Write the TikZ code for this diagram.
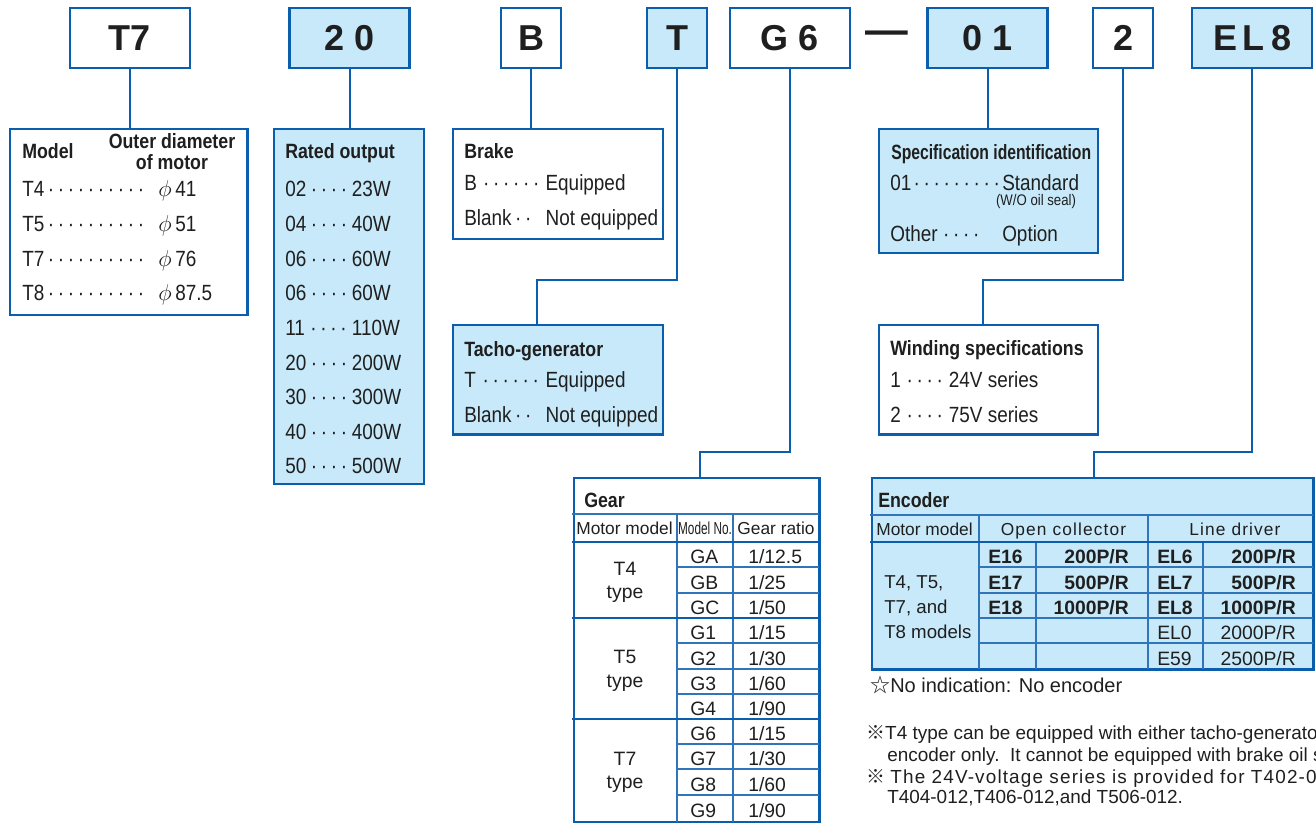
\documentclass[tikz,border=0pt]{standalone}
\usepackage{fontspec}
\setmainfont{Liberation Sans}
\newfontfamily\ordnarrow[FakeStretch=0.86]{Liberation Sans}
\newfontfamily\ordtight[FakeStretch=0.76]{Liberation Sans}
\newfontfamily\ordsqueeze[FakeStretch=0.68]{Liberation Sans}
\newfontfamily\ordsym{Noto Sans CJK SC}
\usepackage{tikz}
\definecolor{ordblue}{HTML}{0B5DAE}
\definecolor{ordfill}{HTML}{C7E9F9}
\colorlet{ordink}{black!88}
\newcommand\orddots[2]{\makebox[#1][l]{#2\cleaders\hbox to 7.5pt{\hss·\hss}\hfill}}
\tikzset{
  ordkey/.style={
    draw=ordblue,
    line width=2.2pt,
    fill=white,
    inner sep=0pt,
    minimum width=90pt,
    minimum height=45pt,
    text=ordink,
    font=\fontsize{27}{30}\selectfont\bfseries
  },
  ordshade/.style={fill=ordfill},
  orddash/.style={inner sep=0pt,text=ordink,font=\fontsize{32}{34}\selectfont\bfseries},
  ordpanel/.style={draw=ordblue,line width=1.8pt,fill=white,anchor=north west,inner sep=0pt},
  ordlink/.style={draw=ordblue,line width=1.5pt},
  ordtitle/.style={anchor=base west,inner sep=0pt,text=ordink,
                   font=\ordnarrow\fontsize{15.5}{16}\selectfont\bfseries},
  ordrow/.style={anchor=base west,inner sep=0pt,text=ordink,
                 font=\ordnarrow\fontsize{16.5}{19}\selectfont},
  ordtiny/.style={anchor=base,inner sep=0pt,text=ordink,
                  font=\ordnarrow\fontsize{11.5}{13}\selectfont},
  ordhead/.style={anchor=base,inner sep=0pt,text=ordink,font=\fontsize{13}{15}\selectfont},
  ordcell/.style={anchor=base west,inner sep=0pt,text=ordink,font=\fontsize{14.5}{17}\selectfont},
  ordvalue/.style={ordcell,anchor=base east},
  ordmid/.style={ordcell,anchor=base},
  ordgrid/.style={draw=ordblue!85,line width=0.9pt},
  ordsep/.style={draw=ordblue,line width=1.8pt},
  ordnote/.style={anchor=base west,inner sep=0pt,text=ordink,font=\fontsize{14.2}{17}\selectfont}
}

\begin{document}
\begin{tikzpicture}[x=0.75pt,y=-0.75pt]
  \useasboundingbox (0,0) rectangle (1316,823);

  % code keys along the top
  \node[ordkey] (kmodel) at (130,38) {T7};
  \node[ordkey,ordshade] (kout) at (349.5,38) {2 0};
  \node[ordkey,minimum width=45pt] (kbrake) at (531,38) {B};
  \node[ordkey,ordshade,minimum width=45pt] (ktacho) at (677,38) {T};
  \node[ordkey] (kgear) at (790,38) {G 6};
  \node[orddash] (dash) at (886.5,38) {—};
  \node[ordkey,ordshade] (kspec) at (987.5,38) {0 1};
  \node[ordkey,minimum width=45pt] (kwind) at (1123,38) {2};
  \node[ordkey,ordshade] (kenc) at (1252,38) {E\,L\,8};

  % panels
  \node[ordpanel,minimum width=178pt,minimum height=139.5pt] (model) at (9,128) {};
  \node[ordpanel,ordshade,minimum width=112.5pt,minimum height=266pt] (rated) at (273,128) {};
  \node[ordpanel,minimum width=157.5pt,minimum height=82.5pt] (brake) at (452,128) {};
  \node[ordpanel,ordshade,minimum width=157.5pt,minimum height=82pt] (tacho) at (452,324) {};
  \node[ordpanel,ordshade,minimum width=164pt,minimum height=93pt] (spec) at (878,128) {};
  \node[ordpanel,minimum width=164pt,minimum height=82pt] (wind) at (878,324) {};
  \node[ordpanel,minimum width=184pt,minimum height=258pt] (gear) at (573,477) {};
  \node[ordpanel,ordshade,minimum width=331pt,minimum height=143.5pt] (enc) at (871,477) {};

  % connectors
  \coordinate (tachobend) at (537,280);
  \coordinate (gearbend) at (700,452);
  \coordinate (windbend) at (983,280);
  \coordinate (encbend) at (1094,452);
  \draw[ordlink] (kmodel.south) -- (kmodel.south |- model.north);
  \draw[ordlink] (kout.south) -- (kout.south |- rated.north);
  \draw[ordlink] (kbrake.south) -- (kbrake.south |- brake.north);
  \draw[ordlink] (ktacho.south) |- (tachobend) -- (tachobend |- tacho.north);
  \draw[ordlink] (kgear.south) |- (gearbend) -- (gearbend |- gear.north);
  \draw[ordlink] (kspec.south) -- (kspec.south |- spec.north);
  \draw[ordlink] (kwind.south) |- (windbend) -- (windbend |- wind.north);
  \draw[ordlink] (kenc.south) |- (encbend) -- (encbend |- enc.north);

  % model
  \node[ordtitle] (modeltl) at (22,159) {Model};
  \node[ordtitle,anchor=base] (modeltr) at (172,149) {Outer diameter};
  \node[ordtitle,anchor=base] (modeltr2) at (172,170) {of motor};
  \node[ordrow] (model1) at (22,197) {\orddots{94pt}{T4}\hspace{8pt}$\phi$\,41};
  \node[ordrow] (model2) at (22,231.6) {\orddots{94pt}{T5}\hspace{8pt}$\phi$\,51};
  \node[ordrow] (model3) at (22,266.2) {\orddots{94pt}{T7}\hspace{8pt}$\phi$\,76};
  \node[ordrow] (model4) at (22,300.8) {\orddots{94pt}{T8}\hspace{8pt}$\phi$\,87.5};

  % rated output
  \node[ordtitle] (ratedtl) at (285,159) {Rated output};
  \node[ordrow] (rated1) at (285,197) {\orddots{50pt}{02}23W};
  \node[ordrow] (rated2) at (285,231.6) {\orddots{50pt}{04}40W};
  \node[ordrow] (rated3) at (285,266.2) {\orddots{50pt}{06}60W};
  \node[ordrow] (rated4) at (285,300.8) {\orddots{50pt}{06}60W};
  \node[ordrow] (rated5) at (285,335.4) {\orddots{50pt}{11}110W};
  \node[ordrow] (rated6) at (285,370) {\orddots{50pt}{20}200W};
  \node[ordrow] (rated7) at (285,404.6) {\orddots{50pt}{30}300W};
  \node[ordrow] (rated8) at (285,439.2) {\orddots{50pt}{40}400W};
  \node[ordrow] (rated9) at (285,473.8) {\orddots{50pt}{50}500W};

  % brake, tacho-generator
  \node[ordtitle] (braketl) at (464,159) {Brake};
  \node[ordrow] (brake1) at (464,191) {\orddots{61pt}{B}Equipped};
  \node[ordrow] (brake2) at (464,226) {\orddots{53pt}{Blank}\hspace{8pt}Not equipped};
  \node[ordtitle] (tachotl) at (464,356) {Tacho-generator};
  \node[ordrow] (tacho1) at (464,387) {\orddots{61pt}{T}Equipped};
  \node[ordrow] (tacho2) at (464,422) {\orddots{53pt}{Blank}\hspace{8pt}Not equipped};

  % specification, winding
  \node[ordtitle,font=\ordtight\fontsize{15.5}{16}\selectfont\bfseries] (spectl) at (891,160) {Specification identification};
  \node[ordrow] (spec1) at (890,191) {\orddots{84pt}{01}Standard};
  \node[ordtiny] (specnote) at (1036,206) {(W/O oil seal)};
  \node[ordrow] (spec2) at (890,242) {\orddots{71pt}{Other}\hspace{13pt}Option};
  \node[ordtitle] (windtl) at (890,355) {Winding specifications};
  \node[ordrow] (wind1) at (890,387) {\orddots{44pt}{1}24V series};
  \node[ordrow] (wind2) at (890,422) {\orddots{44pt}{2}75V series};

  % gear table
  \draw[ordgrid] (572,514) -- (819,514);
  \draw[ordgrid] (677,514) -- (677,822);
  \draw[ordgrid] (733,514) -- (733,822);
  \draw[ordgrid] (677,567) -- (819,567);
  \draw[ordgrid] (677,593) -- (819,593);
  \draw[ordgrid] (677,643) -- (819,643);
  \draw[ordgrid] (677,669) -- (819,669);
  \draw[ordgrid] (677,694) -- (819,694);
  \draw[ordgrid] (677,744) -- (819,744);
  \draw[ordgrid] (677,769) -- (819,769);
  \draw[ordgrid] (677,795) -- (819,795);
  \draw[ordsep] (572,542) -- (819,542);
  \draw[ordsep] (572,618) -- (819,618);
  \draw[ordsep] (572,719) -- (819,719);
  \node[ordtitle] (geartl) at (584,507) {Gear};
  \node[ordhead] (gearh1) at (624.5,534) {Motor model};
  \node[ordhead,font=\ordsqueeze\fontsize{13}{15}\selectfont] (gearh2) at (705,534) {Model No.};
  \node[ordhead] (gearh3) at (776,534) {Gear ratio};
  \node[ordmid] (gearm1) at (625,575) {T4};
  \node[ordmid] (gearm1b) at (625,598) {type};
  \node[ordmid] (gearm2) at (625,663) {T5};
  \node[ordmid] (gearm2b) at (625,687) {type};
  \node[ordmid] (gearm3) at (625,765) {T7};
  \node[ordmid] (gearm3b) at (625,788) {type};
  \node[ordcell] (gearc1) at (690,563) {GA};
  \node[ordcell] (gearr1) at (748,563) {1/12.5};
  \node[ordcell] (gearc2) at (690,589) {GB};
  \node[ordcell] (gearr2) at (748,589) {1/25};
  \node[ordcell] (gearc3) at (690,614) {GC};
  \node[ordcell] (gearr3) at (748,614) {1/50};
  \node[ordcell] (gearc4) at (690,639) {G1};
  \node[ordcell] (gearr4) at (748,639) {1/15};
  \node[ordcell] (gearc5) at (690,665) {G2};
  \node[ordcell] (gearr5) at (748,665) {1/30};
  \node[ordcell] (gearc6) at (690,690) {G3};
  \node[ordcell] (gearr6) at (748,690) {1/60};
  \node[ordcell] (gearc7) at (690,715) {G4};
  \node[ordcell] (gearr7) at (748,715) {1/90};
  \node[ordcell] (gearc8) at (690,740) {G6};
  \node[ordcell] (gearr8) at (748,740) {1/15};
  \node[ordcell] (gearc9) at (690,765) {G7};
  \node[ordcell] (gearr9) at (748,765) {1/30};
  \node[ordcell] (gearc10) at (690,791) {G8};
  \node[ordcell] (gearr10) at (748,791) {1/60};
  \node[ordcell] (gearc11) at (690,817) {G9};
  \node[ordcell] (gearr11) at (748,817) {1/90};

  % encoder table
  \draw[ordgrid] (870,515) -- (1313,515);
  \draw[ordgrid] (979,515) -- (979,669);
  \draw[ordgrid] (1148,515) -- (1148,669);
  \draw[ordgrid] (1036,542) -- (1036,669);
  \draw[ordgrid] (1203,542) -- (1203,669);
  \draw[ordgrid] (979,567) -- (1313,567);
  \draw[ordgrid] (979,593) -- (1313,593);
  \draw[ordgrid] (979,618) -- (1313,618);
  \draw[ordgrid] (979,643) -- (1313,643);
  \draw[ordsep] (870,542) -- (1313,542);
  \node[ordtitle] (enctl) at (878,507) {Encoder};
  \node[ordhead] (ench1) at (924.5,535) {Motor model};
  \node[ordhead,font=\addfontfeature{LetterSpace=6.5}\fontsize{13}{15}\selectfont] (ench2) at (1063.5,535) {Open collector};
  \node[ordhead,font=\addfontfeature{LetterSpace=6.5}\fontsize{13}{15}\selectfont] (ench3) at (1235,535) {Line driver};
  \node[ordcell,font=\fontsize{14}{17}\selectfont] (encm1) at (884,588) {T4, T5,};
  \node[ordcell,font=\fontsize{14}{17}\selectfont] (encm2) at (884,613) {T7, and};
  \node[ordcell,font=\fontsize{14}{17}\selectfont] (encm3) at (884,638) {T8 models};
  \node[ordcell,font=\fontsize{14.5}{17}\selectfont\bfseries] (encc1) at (988,563) {E16};
  \node[ordvalue,font=\fontsize{14.5}{17}\selectfont\bfseries] (encv1) at (1129,563) {200P/R};
  \node[ordcell,font=\fontsize{14.5}{17}\selectfont\bfseries] (encc2) at (988,589) {E17};
  \node[ordvalue,font=\fontsize{14.5}{17}\selectfont\bfseries] (encv2) at (1129,589) {500P/R};
  \node[ordcell,font=\fontsize{14.5}{17}\selectfont\bfseries] (encc3) at (988,614) {E18};
  \node[ordvalue,font=\fontsize{14.5}{17}\selectfont\bfseries] (encv3) at (1129,614) {1000P/R};
  \node[ordcell,font=\fontsize{14.5}{17}\selectfont\bfseries] (encl1) at (1157,563) {EL6};
  \node[ordvalue,font=\fontsize{14.5}{17}\selectfont\bfseries] (encw1) at (1296,563) {200P/R};
  \node[ordcell,font=\fontsize{14.5}{17}\selectfont\bfseries] (encl2) at (1157,589) {EL7};
  \node[ordvalue,font=\fontsize{14.5}{17}\selectfont\bfseries] (encw2) at (1296,589) {500P/R};
  \node[ordcell,font=\fontsize{14.5}{17}\selectfont\bfseries] (encl3) at (1157,614) {EL8};
  \node[ordvalue,font=\fontsize{14.5}{17}\selectfont\bfseries] (encw3) at (1296,614) {1000P/R};
  \node[ordcell] (encl4) at (1157,639) {EL0};
  \node[ordvalue] (encw4) at (1296,639) {2000P/R};
  \node[ordcell] (encl5) at (1157,665) {E59};
  \node[ordvalue] (encw5) at (1296,665) {2500P/R};
  \node[ordnote,font=\fontsize{15}{17}\selectfont] (encnone) at (870,692) {{\ordsym ☆}No indication: No encoder};

  % notes (cut at the right edge as printed)
  \node[ordnote] (note1) at (866,739) {{\ordsym ※}T4 type can be equipped with either tacho-generato};
  \node[ordnote] (note2) at (887,761) {encoder only.\ \ It cannot be equipped with brake oil se};
  \node[ordnote] (note3) at (866,783) {{\ordsym ※}\ {\addfontfeature{LetterSpace=6}The 24V-voltage series is provided for T402-0}};
  \node[ordnote] (note4) at (887,803) {T404-012,T406-012,and T506-012.};
\end{tikzpicture}
\end{document}
